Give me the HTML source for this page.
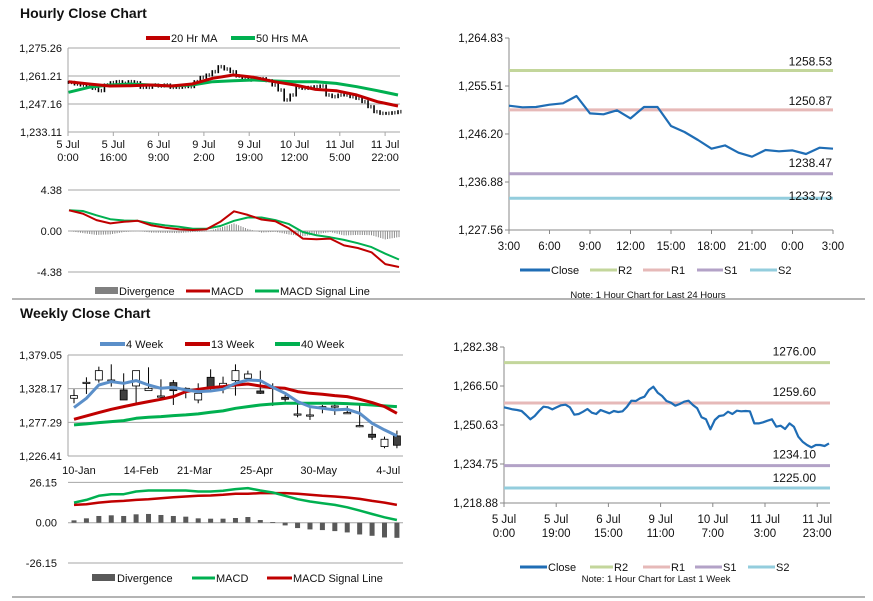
<!DOCTYPE html>
<html><head><meta charset="utf-8">
<style>
html,body{margin:0;padding:0;background:#fff;}
svg{display:block;font-family:"Liberation Sans",Arial,sans-serif;}
</style></head>
<body>
<svg id="chart" width="873" height="601" viewBox="0 0 873 601" xmlns="http://www.w3.org/2000/svg">
<text x="20" y="18" font-size="14" font-weight="bold" fill="#111">Hourly Close Chart</text>
<text x="20" y="318" font-size="14" font-weight="bold" fill="#111">Weekly Close Chart</text>
<line x1="12" y1="299" x2="865" y2="299" stroke="#888" stroke-width="1.2"/>
<line x1="12" y1="597" x2="865" y2="597" stroke="#888" stroke-width="1.2"/>
</svg>
<script>
// ---------- Hourly candles (close trace) ----------
const hourlyPrices = [1258.03,1257.19,1256.69,1255.85,1255.02,1253.84,1256.69,1257.86,1258.36,1257.52,1258.36,1257.86,1255.52,1255.52,1256.69,1256.19,1256.69,1255.52,1255.52,1255.85,1255.85,1258.36,1260.54,1261.71,1263.38,1265.89,1264.72,1263.38,1261.21,1260.04,1259.20,1259.53,1259.87,1258.87,1256.69,1254.18,1249.16,1251.67,1255.52,1255.02,1255.52,1255.85,1256.19,1251.67,1250.83,1251.67,1251.67,1250.83,1250.00,1248.33,1245.81,1243.30,1242.47,1242.47,1242.80,1243.30];
const hourlyMA20 = [1258.36,1257.19,1256.19,1256.35,1256.69,1256.19,1257.19,1260.04,1261.71,1260.54,1258.36,1256.69,1254.51,1253.84,1251.67,1248.33,1246.15];
const hourlyMA50 = [1253.01,1255.52,1256.69,1257.19,1256.69,1256.19,1256.69,1258.36,1258.87,1259.20,1258.70,1258.36,1258.36,1257.52,1255.85,1253.84,1251.67];
const hourlyYTicks = [1275.26,1261.21,1247.16,1233.11];
const hourlyXLabels = [["5 Jul","0:00"],["5 Jul","16:00"],["6 Jul","9:00"],["9 Jul","2:00"],["9 Jul","19:00"],["10 Jul","12:00"],["11 Jul","5:00"],["11 Jul","22:00"]];
const hourlyMACD = [2.21,1.86,1.16,0.81,0.98,1.09,0.60,0.35,0.18,0.11,0.18,0.98,2.10,1.72,1.23,1.05,0.28,-0.81,-0.88,-0.81,-1.54,-1.82,-2.28,-3.54,-3.85];
const hourlySignal = [2.21,2.14,1.68,1.26,1.12,1.09,0.81,0.60,0.46,0.25,0.25,0.53,1.09,1.44,1.44,1.16,0.74,-0.11,-0.46,-0.67,-0.95,-1.30,-1.72,-2.42,-3.04];
const hourlyMacdTicks = [4.38,0,-4.38];
// ---------- 24h chart ----------
const dayClose = [1251.69,1251.37,1251.43,1251.89,1252.15,1253.57,1250.20,1250.01,1250.79,1249.23,1251.43,1251.43,1247.74,1246.58,1245.03,1243.34,1243.99,1242.57,1241.79,1243.09,1242.83,1243.02,1242.31,1243.54,1243.34];
const dayLevels = [1258.53,1250.87,1238.47,1233.73];
const dayYTicks = [1264.83,1255.51,1246.20,1236.88,1227.56];
const dayXLabels = ["3:00","6:00","9:00","12:00","15:00","18:00","21:00","0:00","3:00"];
// ---------- Weekly ----------
const wkOpen  = [1313.63,1337.79,1341.31,1341.31,1326.21,1332.25,1325.20,1317.15,1337.28,1328.73,1311.11,1345.34,1331.24,1340.30,1343.83,1324.70,1330.24,1315.14,1289.97,1288.46,1301.04,1302.05,1291.99,1272.36,1259.27,1240.65,1256.75];
const wkClose = [1317.65,1337.79,1355.40,1341.31,1311.11,1355.40,1328.73,1317.15,1325.20,1328.73,1321.18,1328.73,1336.28,1355.40,1350.37,1321.18,1330.24,1312.12,1289.97,1288.46,1301.04,1302.05,1291.99,1272.36,1254.74,1251.72,1242.66];
const wkHigh  = [1327.22,1345.34,1361.44,1364.96,1351.37,1355.40,1360.43,1342.31,1341.31,1330.24,1336.28,1357.41,1346.34,1364.96,1355.40,1355.40,1336.28,1318.66,1308.59,1298.53,1303.56,1305.07,1302.05,1305.07,1271.85,1255.75,1264.81];
const wkLow   = [1306.08,1320.17,1337.28,1331.24,1311.11,1307.08,1325.20,1311.11,1303.56,1313.63,1306.08,1326.21,1321.18,1317.65,1341.31,1320.17,1302.05,1308.59,1284.94,1280.91,1290.98,1288.46,1290.98,1269.84,1250.71,1238.13,1238.13];
const wk4  = [1299.53,1313.63,1333.76,1338.79,1336.28,1340.30,1333.76,1328.73,1330.24,1326.21,1323.69,1324.70,1327.22,1336.28,1341.31,1340.30,1330.24,1321.18,1308.59,1301.04,1298.53,1296.01,1297.02,1290.98,1275.88,1265.81,1256.75];
const wk13 = [1281.92,1286.95,1291.99,1297.02,1301.04,1305.07,1308.59,1312.12,1316.14,1323.69,1327.22,1329.74,1331.24,1333.76,1335.27,1332.25,1329.74,1328.73,1323.69,1321.18,1319.67,1317.65,1316.14,1312.12,1307.08,1301.04,1290.98];
const wk40 = [1273.36,1274.87,1276.89,1278.40,1279.91,1283.43,1284.94,1285.95,1287.46,1288.46,1289.97,1292.49,1294.50,1298.53,1301.04,1303.56,1305.07,1306.08,1306.08,1306.08,1306.08,1306.08,1305.57,1304.57,1303.56,1302.05,1301.04];
const wkYTicks = [1379.05,1328.17,1277.29,1226.41];
const wkXLabels = ["10-Jan","14-Feb","21-Mar","25-Apr","30-May","4-Jul"];
const wkXLabelIdx = [0.4,5.4,9.7,14.7,19.7,25.3];
const wkMACD = [13.07,14.82,17.43,18.52,18.52,20.26,20.92,20.92,20.92,20.92,20.26,20.26,20.70,21.79,22.44,20.92,19.61,17.43,15.25,13.73,12.64,11.55,10.02,7.84,5.66,3.49,1.74];
const wkSignal = [11.55,11.98,13.07,13.73,14.16,14.82,15.25,15.91,16.56,17.00,17.43,17.65,18.09,18.74,18.74,19.18,19.18,19.18,18.74,18.09,17.43,17.00,16.34,15.47,14.16,13.07,11.55];
const wkMacdTicks = [26.15,0,-26.15];
// ---------- Week hourly chart ----------
const weekClose = [1257.82,1257.41,1257.00,1256.73,1256.32,1254.70,1252.93,1254.29,1256.32,1258.09,1257.82,1257.00,1257.82,1258.63,1258.90,1257.82,1254.83,1255.10,1256.05,1257.14,1255.65,1255.10,1256.73,1256.05,1255.38,1256.32,1255.92,1256.19,1258.09,1260.53,1260.40,1261.48,1262.16,1264.87,1266.23,1263.79,1262.43,1260.40,1259.72,1258.50,1259.17,1260.12,1260.53,1258.77,1257.41,1253.75,1252.93,1248.86,1252.66,1254.29,1254.56,1256.05,1255.10,1256.46,1256.19,1256.32,1256.19,1251.30,1251.30,1251.71,1252.39,1252.93,1249.95,1250.35,1249.00,1251.30,1249.95,1245.88,1243.84,1242.48,1241.53,1242.48,1242.48,1242.08,1243.16];
const weekLevels = [1276.00,1259.60,1234.10,1225.00];
const weekYTicks = [1282.38,1266.50,1250.63,1234.75,1218.88];
const weekXLabels = [["5 Jul","0:00"],["5 Jul","19:00"],["6 Jul","15:00"],["9 Jul","11:00"],["10 Jul","7:00"],["11 Jul","3:00"],["11 Jul","23:00"]];

const NS="http://www.w3.org/2000/svg";
const svg=document.getElementById('chart');
function mk(tag,a){const e=document.createElementNS(NS,tag);for(const k in a)e.setAttribute(k,a[k]);svg.appendChild(e);return e;}
function tx(x,y,s,anchor,size,fill){const e=mk('text',{x:x,y:y,'text-anchor':anchor||'start','font-size':size||11,fill:fill||'#111'});e.textContent=s;return e;}
function fmt(v){const s=Math.abs(v).toFixed(2);const p=s.split('.');p[0]=p[0].replace(/\B(?=(\d{3})+(?!\d))/g,',');return (v<0?'-':'')+p.join('.');}
function poly(xs,ys,color,w){let d='';for(let i=0;i<xs.length;i++)d+=(i?'L':'M')+xs[i].toFixed(1)+','+ys[i].toFixed(1);return mk('path',{d:d,fill:'none',stroke:color,'stroke-width':w,'stroke-linejoin':'round'});}
function legLine(x1,x2,y,color,w,label,name){
  const l=mk('line',{x1:x1,y1:y,x2:x2,y2:y,stroke:color,'stroke-width':w});
  
  
  const t=tx(x2+1,y+4,label,'start',11);
  
  
}
const GRID='#a6a6a6';

// ===== Hourly main =====
{
  const x0=68,x1=400,yT=48,yB=132,vT=1275.26,vB=1233.11;
  const Y=v=>yT+(vT-v)/(vT-vB)*(yB-yT);
  hourlyYTicks.forEach(v=>{
    const g=mk('line',{x1:x0,y1:Y(v),x2:x1,y2:Y(v),stroke:GRID,'stroke-width':1});
    
    
    const t=tx(62,Y(v)+4,fmt(v),'end',11);
    
    
  });
  const ax=mk('line',{x1:x0,y1:yT,x2:x0,y2:yB,stroke:GRID});
  
  
  hourlyXLabels.forEach((l,i)=>{
    const x=x0+i*45.3;
    const tk=mk('line',{x1:x,y1:yB,x2:x,y2:yB+4,stroke:GRID});
    
    
    const t1=tx(x,yB+16,l[0],'middle',11);
    
    
    const t2=tx(x,yB+29,l[1],'middle',11);
    
    
  });
  const n=hourlyPrices.length, X=i=>x0+0.5+i*(329.5/(n-1));
  for(let i=0;i<n;i++){
    const prev=i?hourlyPrices[i-1]:hourlyPrices[i];
    const a=Math.min(Y(prev),Y(hourlyPrices[i]))-1.5, b=Math.max(Y(prev),Y(hourlyPrices[i]))+1.5;
    const c=mk('line',{x1:X(i),y1:a,x2:X(i),y2:b,stroke:'#000','stroke-width':1.6});
    
    
    const c2=mk('line',{x1:X(i)+2.9,y1:Y(hourlyPrices[i])-1.8,x2:X(i)+2.9,y2:Y(hourlyPrices[i])+1.8,stroke:'#000','stroke-width':1});
    
    
  }
  const m=hourlyMA20.length, XM=i=>x0+0.5+i*(329.5/(m-1));
  const g50=poly(hourlyMA50.map((v,i)=>XM(i)),hourlyMA50.map(Y),'#00b050',3);
  
  
  const r20=poly(hourlyMA20.map((v,i)=>XM(i)),hourlyMA20.map(Y),'#c00000',3);
  
  
  legLine(146,170,38,'#c00000',4,'20 Hr MA','legend-ma20');
  legLine(231,255,38,'#00b050',4,'50 Hrs MA','legend-ma50');
}
// ===== Hourly MACD =====
{
  const x0=68,x1=400,y0=231,h=41,mx=4.38;
  const Y=v=>y0-v/mx*h;
  hourlyMacdTicks.forEach(v=>{
    const g=mk('line',{x1:x0,y1:Y(v),x2:x1,y2:Y(v),stroke:GRID});
    
    
    const t=tx(62,Y(v)+4,fmt(v),'end',11);
    
    
  });
  const n=hourlyMACD.length, X=i=>x0+1+i*(330/(n-1));
  for(let i=0;i<n;i++){
    for(let k=0;k<6;k++){
      if(i===n-1&&k>0)break;
      const f=k/6, j=Math.min(i+1,n-1);
      const d=(hourlyMACD[i]*(1-f)+hourlyMACD[j]*f)-(hourlySignal[i]*(1-f)+hourlySignal[j]*f);
      const xx=X(i)+f*(330/(n-1));
      const b=mk('line',{x1:xx,y1:y0,x2:xx,y2:Y(d*0.8),stroke:'#8c8c8c','stroke-width':1});
      
      
    }
  }
  const s=poly(hourlySignal.map((v,i)=>X(i)),hourlySignal.map(Y),'#00b050',2);
  
  
  const m=poly(hourlyMACD.map((v,i)=>X(i)),hourlyMACD.map(Y),'#c00000',2);
  
  
  const sw=mk('rect',{x:95,y:287,width:23,height:7,fill:'#808080'});
  
  
  const t=tx(119,295,'Divergence','start',11);
  
  
  legLine(186,210,291,'#c00000',3,'MACD','legend-macd');
  legLine(255,279,291,'#00b050',3,'MACD Signal Line','legend-signal');
}
// ===== level charts =====
function levelChart(cfg){
  const {x0,x1,yT,yB,vT,vB,ticks,close,levels,prefix}=cfg;
  const Y=v=>yT+(vT-v)/(vT-vB)*(yB-yT);
  const ax=mk('path',{d:`M${x0},${yT}L${x0},${yB}L${x1},${yB}`,fill:'none',stroke:'#888'});
  
  
  ticks.forEach(v=>{
    const tk=mk('line',{x1:x0-4,y1:Y(v),x2:x0,y2:Y(v),stroke:'#888'});
    
    
    const t=tx(x0-6,Y(v)+4,fmt(v),'end',11.5);
    
    
  });
  const cols=['#c3d69b','#e6b9b8','#b3a2c7','#93cddd'];
  const lnames=['r2','r1','s1','s2'];
  levels.forEach((v,i)=>{
    const l=mk('line',{x1:x0,y1:Y(v),x2:x1,y2:Y(v),stroke:cols[i],'stroke-width':3});
    
    
    const t=tx(cfg.lblX,Y(v)+cfg.lblDy[i],v.toFixed(2),'end',12);
    
    
  });
  const n=close.length, X=i=>x0+i*(cfg.xEnd-x0)/(n-1);
  const c=poly(close.map((v,i)=>X(i)),close.map(Y),'#1f6db5',2.2);
  
  
  return Y;
}
levelChart({x0:509,x1:833,xEnd:833,yT:38,yB:230,vT:1264.83,vB:1227.56,ticks:dayYTicks,close:dayClose,levels:dayLevels,prefix:'day',lblX:832,lblDy:[-5,-5,-7,2]});
dayXLabels.forEach((s,i)=>{
  const x=509+i*40.5;
  const tk=mk('line',{x1:x,y1:230,x2:x,y2:234,stroke:'#888'});
  
  
  const t=tx(x,250,s,'middle',11.5);
  
  
});
legLine(520,550,270,'#1f6db5',3,'Close','day-legend-close');
legLine(590,617,270,'#c3d69b',3,'R2','day-legend-r2');
legLine(643,670,270,'#e6b9b8',3,'R1','day-legend-r1');
legLine(697,723,270,'#b3a2c7',3,'S1','day-legend-s1');
legLine(750,777,270,'#93cddd',3,'S2','day-legend-s2');
{const t=tx(648,298,'Note: 1 Hour Chart for Last 24 Hours','middle',9.5);

}

levelChart({x0:504,x1:830,xEnd:829,yT:347,yB:503,vT:1282.38,vB:1218.88,ticks:weekYTicks,close:weekClose,levels:weekLevels,prefix:'week',lblX:816,lblDy:[-7,-7,-7,-6]});
weekXLabels.forEach((l,i)=>{
  const x=504+i*52.2;
  const tk=mk('line',{x1:x,y1:503,x2:x,y2:507,stroke:'#888'});
  
  
  const t1=tx(x,523,l[0],'middle',11.5);
  
  
  const t2=tx(x,537,l[1],'middle',11.5);
  
  
});
legLine(520,547,567,'#1f6db5',3,'Close','week-legend-close');
legLine(590,613,567,'#c3d69b',3,'R2','week-legend-r2');
legLine(643,670,567,'#e6b9b8',3,'R1','week-legend-r1');
legLine(695,722,567,'#b3a2c7',3,'S1','week-legend-s1');
legLine(748,775,567,'#93cddd',3,'S2','week-legend-s2');
{const t=tx(656,582,'Note: 1 Hour Chart for Last 1 Week','middle',9.5);

}

// ===== Weekly main =====
{
  const x0=68,x1=403,yT=355,yB=456,vT=1379.05,vB=1226.41;
  const Y=v=>yT+(vT-v)/(vT-vB)*(yB-yT);
  wkYTicks.forEach(v=>{
    const g=mk('line',{x1:x0,y1:Y(v),x2:x1,y2:Y(v),stroke:GRID});
    
    
    const t=tx(62,Y(v)+4,fmt(v),'end',11);
    
    
  });
  const ax=mk('line',{x1:x0,y1:yT,x2:x0,y2:yB,stroke:GRID});
  
  
  const X=i=>74+i*12.42;
  wkXLabels.forEach((s,i)=>{
    const t=tx(X(wkXLabelIdx[i]),474,s,'middle',11);
    
    
  });
  for(let i=0;i<wkOpen.length;i++){
    const w=mk('line',{x1:X(i),y1:Y(wkHigh[i]),x2:X(i),y2:Y(wkLow[i]),stroke:'#000','stroke-width':1});
    
    
    const up=wkClose[i]>=wkOpen[i];
    const top=Y(Math.max(wkOpen[i],wkClose[i])), bot=Y(Math.min(wkOpen[i],wkClose[i]));
    const b=mk('rect',{x:X(i)-3.5,y:top,width:7,height:Math.max(bot-top,1.2),fill:up?'#fff':'#404040',stroke:'#000','stroke-width':0.8});
    
    
  }
  const g=poly(wk40.map((v,i)=>X(i)),wk40.map(Y),'#00b050',3);
  
  
  const r=poly(wk13.map((v,i)=>X(i)),wk13.map(Y),'#c00000',3);
  
  
  const b=poly(wk4.map((v,i)=>X(i)),wk4.map(Y),'#5b8fc9',3);
  
  
  legLine(100,125,344,'#5b8fc9',4,'4 Week','legend-wk4');
  legLine(185,210,344,'#c00000',4,'13 Week','legend-wk13');
  legLine(275,300,344,'#00b050',4,'40 Week','legend-wk40');
}
// ===== Weekly MACD =====
{
  const x0=68,x1=403,y0=522.7,h=40.3,mx=26.15;
  const Y=v=>y0-v/mx*h;
  wkMacdTicks.forEach(v=>{
    const g=mk('line',{x1:x0,y1:Y(v),x2:x1,y2:Y(v),stroke:GRID});
    
    
    const t=tx(57,Y(v)+4,fmt(v),'end',11);
    
    
  });
  const X=i=>74+i*12.42;
  for(let i=0;i<wkMACD.length;i++){
    const d=(wkMACD[i]-wkSignal[i]);
    const b=mk('rect',{x:X(i)-2.5,y:Math.min(Y(d),y0),width:5,height:Math.max(Math.abs(Y(d)-y0),0.8),fill:'#595959'});
    
    
  }
  const s=poly(wkSignal.map((v,i)=>X(i)),wkSignal.map(Y),'#c00000',2.5);
  
  
  const m=poly(wkMACD.map((v,i)=>X(i)),wkMACD.map(Y),'#00b050',2.5);
  
  
  const sw=mk('rect',{x:92,y:574,width:23,height:7,fill:'#595959'});
  
  
  const t=tx(117,582,'Divergence','start',11);
  
  
  legLine(192,215,578,'#00b050',3,'MACD','weekly-legend-macd');
  legLine(267,292,578,'#c00000',3,'MACD Signal Line','weekly-legend-signal');
}
</script>
</body></html>
